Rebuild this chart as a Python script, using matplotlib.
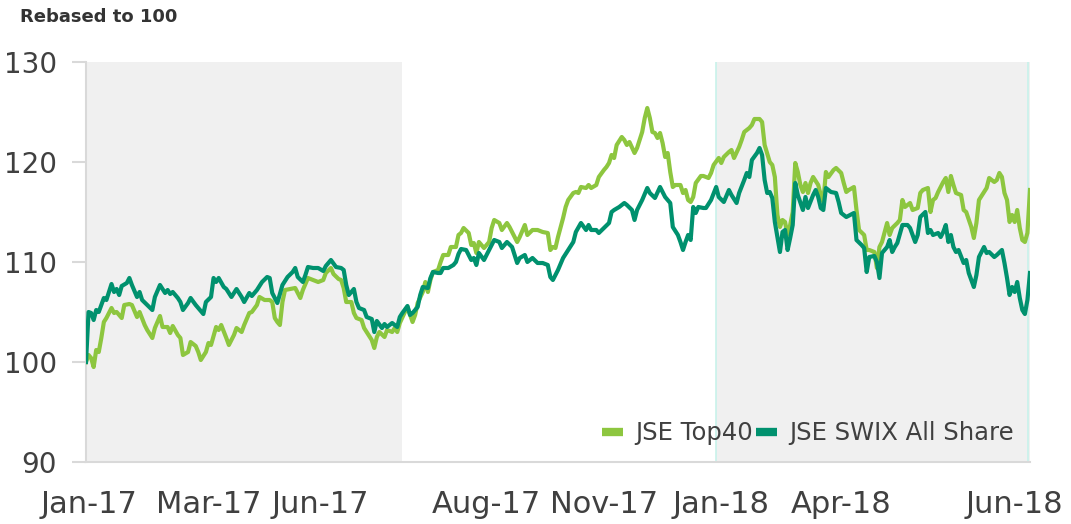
import matplotlib.pyplot as plt
from matplotlib.lines import Line2D

# trading-day index (0 = first day of Jan-17) and rebased index levels
swix_day = [0, 1, 2, 3, 4, 5, 7, 8, 9, 10, 11, 12, 13, 14, 16, 17, 18, 20, 21, 22,
            24, 26, 27, 29, 31, 32, 33, 34, 36, 37, 38, 40, 41, 43, 44, 46, 47, 49, 50, 51,
            52, 54, 55, 57, 59, 61, 62, 64, 65, 67, 69, 71, 72, 73, 74, 75, 77, 79, 81, 82,
            83, 85, 86, 87, 89, 91, 93, 94, 96, 98, 100, 101, 102, 103, 105, 106, 107, 109, 110, 112,
            113, 114, 116, 117, 118, 120, 122, 123, 124, 126, 127, 128, 130, 131, 132, 134, 135, 136, 138, 139,
            140, 142, 144, 145, 146, 147, 149, 151, 152, 153, 154, 156, 158, 160, 162, 163, 165, 167, 169, 170,
            172, 173, 175, 177, 179, 181, 182, 183, 185, 187, 189, 191, 192, 194, 196, 197, 198, 200, 201, 203,
            205, 206, 207, 209, 211, 212, 214, 215, 216, 218, 220, 221, 223, 225, 227, 229, 230, 232, 233, 234,
            235, 236, 237, 238, 239, 240, 242, 243, 245, 247, 248, 250, 252, 253, 255, 256, 258, 259, 260, 261,
            263, 264, 265, 266, 267, 268, 269, 270, 272, 273, 274, 275, 276, 277, 278, 279, 281, 282, 283, 285,
            286, 287, 288, 289, 290, 292, 294, 295, 296, 298, 301, 302, 304, 305, 306, 307, 309, 310, 311, 312,
            313, 314, 315, 316, 317, 318, 320, 322, 323, 325, 326, 327, 329, 330, 331, 332, 334, 335, 336, 337,
            338, 339, 340, 341, 342, 344, 345, 346, 348, 349, 350, 352, 353, 354, 356, 357, 359, 360, 361, 362,
            363, 364, 365, 366, 367, 368, 369, 370]
swix = [100.0, 105.0, 104.9, 104.2, 105.2, 105.0, 106.4, 106.2, 107.0, 107.8, 107.0, 107.3, 106.7, 107.6, 107.9, 108.4, 107.7, 106.5, 107.0, 106.2,
        105.7, 105.2, 106.5, 107.7, 106.9, 107.2, 106.8, 107.0, 106.4, 106.0, 105.2, 105.9, 106.4, 105.7, 105.4, 104.8, 106.0, 106.5, 108.4, 108.0,
        108.4, 107.5, 107.3, 106.5, 107.3, 106.5, 106.0, 106.9, 106.6, 107.2, 108.0, 108.5, 108.4, 106.9, 106.4, 105.9, 107.7, 108.5, 109.0, 109.4,
        108.5, 108.0, 108.7, 109.5, 109.4, 109.4, 109.1, 109.6, 110.2, 109.5, 109.4, 109.2, 107.7, 106.7, 107.3, 106.0, 105.4, 105.2, 104.5, 104.3,
        103.0, 104.1, 103.4, 103.8, 103.5, 103.9, 103.5, 104.5, 104.9, 105.6, 104.7, 104.9, 105.5, 106.7, 107.5, 107.4, 108.4, 109.0, 108.9, 108.9,
        109.4, 109.4, 109.7, 110.0, 110.8, 111.3, 111.2, 110.2, 110.4, 109.7, 110.9, 110.2, 111.2, 112.2, 112.0, 111.4, 112.0, 111.5, 109.9, 110.4,
        110.7, 110.0, 110.4, 109.9, 109.9, 109.7, 108.5, 108.2, 109.2, 110.4, 111.2, 112.0, 113.0, 113.9, 113.2, 113.7, 113.2, 113.2, 112.9, 113.4,
        113.9, 115.0, 115.2, 115.5, 115.9, 115.7, 115.2, 114.2, 115.2, 116.2, 117.4, 116.9, 116.4, 117.5, 116.5, 115.9, 113.5, 112.7, 112.0, 111.2,
        112.0, 112.7, 112.2, 115.5, 114.9, 115.5, 115.4, 115.4, 116.2, 117.5, 116.5, 116.0, 117.2, 116.7, 115.9, 116.9, 118.2, 118.9, 118.5, 120.2,
        120.9, 121.4, 120.7, 118.2, 116.9, 117.0, 116.4, 114.0, 111.0, 113.0, 113.2, 111.2, 112.4, 113.7, 117.9, 116.7, 115.2, 116.5, 115.4, 116.7,
        117.2, 116.5, 115.4, 115.2, 117.4, 117.0, 116.9, 116.0, 114.9, 114.5, 114.9, 112.2, 111.7, 111.4, 109.0, 110.5, 110.6, 110.0, 108.4, 110.9,
        111.2, 111.5, 112.2, 111.0, 111.5, 111.9, 113.7, 113.7, 113.4, 112.0, 112.7, 114.5, 115.0, 112.9, 113.2, 112.7, 112.9, 112.5, 113.0, 113.7,
        112.0, 112.7, 111.5, 111.0, 111.2, 109.9, 110.2, 108.9, 107.5, 108.7, 110.5, 111.5, 110.9, 111.0, 110.5, 110.7, 111.2, 109.9, 108.4, 106.7,
        107.5, 107.0, 108.0, 106.4, 105.2, 104.8, 106.2, 108.9]

top40_day = [0, 1, 2, 3, 4, 5, 6, 7, 8, 10, 11, 12, 14, 15, 17, 18, 20, 21, 23, 24,
             26, 27, 29, 30, 32, 33, 34, 36, 37, 38, 40, 41, 43, 44, 45, 47, 48, 49, 51, 52,
             53, 55, 56, 58, 59, 61, 62, 64, 65, 67, 68, 70, 72, 73, 74, 75, 76, 77, 78, 80,
             82, 84, 85, 87, 89, 91, 93, 94, 96, 97, 99, 100, 101, 102, 104, 105, 106, 108, 109, 110,
             112, 113, 114, 115, 117, 118, 120, 121, 122, 123, 125, 126, 128, 129, 130, 132, 133, 134, 135, 136,
             138, 139, 140, 142, 143, 145, 146, 147, 148, 150, 151, 152, 153, 154, 156, 158, 159, 160, 162, 163,
             165, 166, 168, 169, 170, 172, 173, 175, 177, 179, 181, 182, 183, 184, 185, 187, 188, 189, 191, 192,
             193, 194, 196, 197, 198, 200, 201, 203, 204, 205, 206, 207, 208, 210, 211, 212, 213, 215, 216, 218,
             219, 220, 221, 222, 223, 224, 225, 226, 227, 228, 229, 230, 231, 233, 234, 235, 236, 237, 238, 239,
             241, 242, 244, 245, 246, 248, 249, 250, 252, 253, 254, 256, 257, 258, 260, 261, 262, 264, 265, 266,
             268, 269, 270, 271, 272, 273, 274, 275, 276, 277, 278, 279, 280, 281, 282, 283, 284, 285, 287, 288,
             289, 290, 291, 293, 294, 296, 297, 298, 299, 301, 302, 303, 305, 306, 307, 309, 310, 311, 312, 314,
             315, 316, 318, 319, 320, 321, 323, 324, 326, 327, 328, 330, 331, 332, 333, 334, 336, 337, 338, 339,
             340, 341, 343, 344, 345, 347, 348, 349, 350, 352, 353, 354, 356, 357, 358, 359, 360, 361, 362, 363,
             364, 365, 366, 367, 368, 369, 370]
top40 = [100.0, 100.7, 100.4, 99.5, 101.2, 101.0, 102.4, 104.0, 104.4, 105.4, 104.9, 105.0, 104.4, 105.7, 105.8, 105.7, 104.5, 105.0, 103.7, 103.2,
         102.4, 103.4, 104.6, 103.5, 103.5, 102.9, 103.6, 102.7, 102.4, 100.7, 101.0, 102.0, 101.6, 101.0, 100.2, 101.0, 101.9, 101.7, 103.5, 103.2,
         103.7, 102.4, 101.7, 102.7, 103.4, 103.0, 103.7, 104.9, 105.0, 105.7, 106.5, 106.2, 106.2, 106.0, 104.4, 104.0, 103.7, 106.0, 107.2, 107.3,
         107.4, 106.4, 107.2, 108.4, 108.2, 108.0, 108.2, 108.9, 109.4, 108.8, 108.3, 108.2, 107.4, 106.0, 106.0, 104.9, 104.4, 104.2, 103.4, 103.0,
         102.2, 101.4, 102.5, 103.0, 102.5, 103.2, 103.0, 103.4, 103.0, 103.9, 105.0, 105.5, 104.0, 104.7, 105.9, 107.0, 108.0, 107.0, 108.2, 109.0,
         109.2, 110.0, 110.7, 110.7, 111.5, 111.5, 112.7, 112.9, 113.4, 112.9, 111.7, 111.9, 110.9, 112.0, 111.4, 112.0, 113.4, 114.2, 113.9, 113.2,
         113.9, 113.5, 112.5, 112.0, 112.5, 113.7, 112.7, 113.2, 113.2, 113.0, 112.9, 111.2, 111.5, 111.4, 112.5, 114.4, 115.5, 116.2, 116.9, 117.0,
         116.9, 117.5, 117.4, 117.7, 117.4, 117.7, 118.5, 119.2, 119.5, 119.9, 120.7, 120.4, 121.7, 122.5, 122.2, 121.7, 122.0, 120.9, 121.4, 123.0,
         124.4, 125.4, 124.4, 123.0, 122.9, 122.4, 122.9, 121.9, 120.5, 120.9, 119.0, 117.5, 117.7, 117.7, 116.9, 117.2, 116.2, 116.0, 116.5, 117.9,
         118.6, 118.6, 118.4, 118.9, 119.7, 120.4, 119.9, 120.5, 121.0, 121.2, 120.4, 121.5, 122.2, 123.0, 123.4, 123.7, 124.3, 124.3, 124.0, 121.7,
         120.0, 119.7, 118.5, 114.7, 113.5, 114.2, 114.0, 112.7, 113.7, 115.0, 119.9, 119.0, 117.7, 117.0, 117.9, 116.9, 117.9, 118.5, 117.7, 116.7,
         116.0, 119.0, 118.5, 119.2, 119.4, 118.9, 117.9, 117.0, 117.2, 117.5, 115.2, 113.2, 112.7, 111.2, 111.2, 111.0, 109.4, 111.5, 112.0, 113.9,
         112.7, 113.4, 113.9, 114.2, 116.2, 115.5, 115.9, 115.2, 115.4, 116.9, 117.2, 117.4, 115.0, 116.2, 116.4, 117.0, 118.0, 118.4, 117.0, 118.6,
         117.7, 116.9, 116.7, 115.2, 115.0, 113.5, 112.4, 113.9, 116.2, 117.0, 117.4, 118.4, 118.0, 118.2, 118.9, 118.5, 116.9, 116.2, 114.0, 114.7,
         114.0, 115.2, 113.4, 112.2, 112.0, 112.9, 117.2]

tick_days = [1, 48, 92, 157, 203, 249, 296, 364]
tick_labels = ["Jan-17", "Mar-17", "Jun-17", "Aug-17", "Nov-17", "Jan-18", "Apr-18", "Jun-18"]
shaded = [(0, 124), (247, 370)]

LIGHT = "#8dc63f"
DARK = "#00916e"
GREY = "#d9d9d9"
TXT = "#404040"

fig = plt.figure(figsize=(10.71, 5.24), dpi=100)
ax = fig.add_axes([0.0803, 0.1183, 0.8814, 0.7634])

for a, b in shaded:
    ax.axvspan(a, b, color="#f0f0f0", lw=0, zorder=0)
ax.axvline(shaded[1][0], color="#c8f2ea", lw=1.2, zorder=1)
ax.axvline(shaded[1][1] - 0.7, color="#c8f2ea", lw=1.2, zorder=1)

ax.plot(top40_day, top40, color=LIGHT, lw=3, solid_joinstyle="round", zorder=3)
ax.plot(swix_day, swix, color=DARK, lw=3, solid_joinstyle="round", zorder=4)

ax.set_xlim(0, 370)
ax.set_ylim(90, 130)
ax.set_yticks([90, 100, 110, 120, 130])
ax.set_xticks(tick_days)
ax.set_xticklabels(tick_labels)

for side in ["top", "right"]:
    ax.spines[side].set_visible(False)
for side in ["left", "bottom"]:
    ax.spines[side].set_color(GREY)
    ax.spines[side].set_linewidth(1.5)

ax.tick_params(axis="y", length=10, width=1.5, color=GREY, pad=11,
               labelsize=20, labelcolor=TXT)
ax.tick_params(axis="x", length=0, pad=20, labelsize=22, labelcolor=TXT)

handles = [Line2D([], [], color=LIGHT, lw=6, solid_capstyle="butt"),
           Line2D([], [], color=DARK, lw=6, solid_capstyle="butt")]
ax.legend(handles, ["JSE Top40", "JSE SWIX All Share"], ncol=2, loc="center right",
          bbox_to_anchor=(0.983, 0.0725), frameon=False, fontsize=17.5,
          handlelength=0.85, handletextpad=0.5, columnspacing=0.15,
          borderpad=0, borderaxespad=0, labelcolor=TXT)

fig.text(0.019, 0.968, "Rebased to 100", fontsize=13, fontweight="bold",
         color="#333333", va="center")

fig.savefig("out.png", dpi=100)
